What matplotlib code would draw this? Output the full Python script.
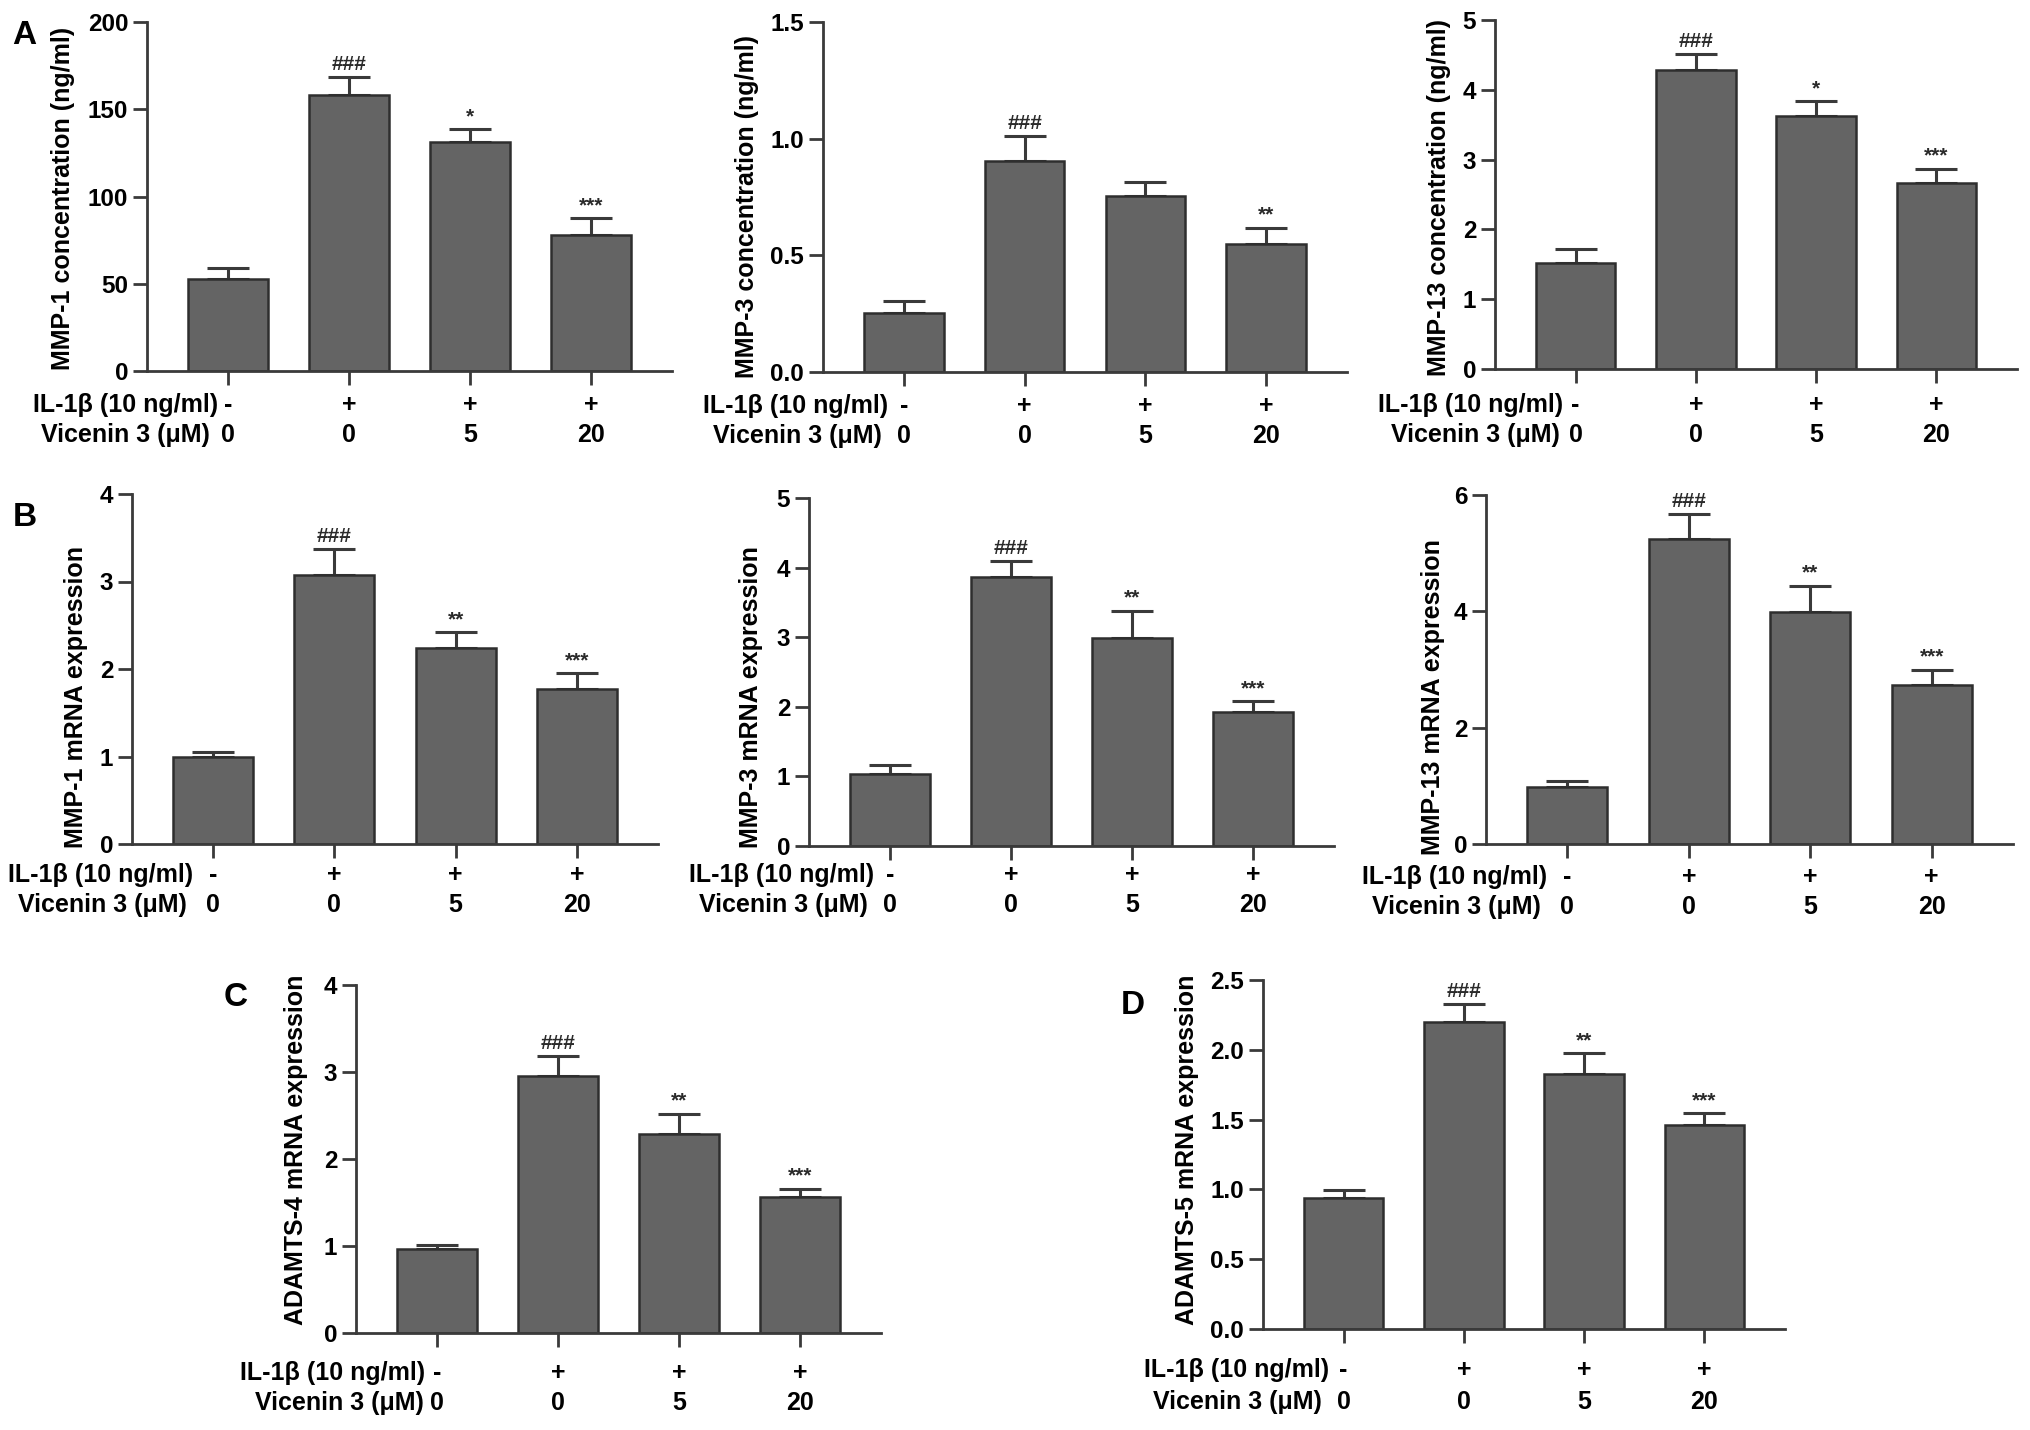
import matplotlib
matplotlib.use("Agg")
import matplotlib.pyplot as plt
from matplotlib.ticker import FormatStrFormatter

plt.rcParams["font.family"] = ["Liberation Sans", "DejaVu Sans"]
plt.rcParams["font.weight"] = "bold"

# --- data ---------------------------------------------------------------
il1b_row = ["-", "+", "+", "+"]
vicenin_row = ["0", "0", "5", "20"]

mmp1_conc = [52.5, 158, 131, 78]
mmp1_conc_err = [6.5, 10.5, 7.5, 9.5]
mmp3_conc = [0.253, 0.904, 0.755, 0.548]
mmp3_conc_err = [0.052, 0.106, 0.06, 0.07]
mmp13_conc = [1.52, 4.28, 3.62, 2.67]
mmp13_conc_err = [0.2, 0.24, 0.22, 0.2]

mmp1_mrna = [1.0, 3.07, 2.24, 1.77]
mmp1_mrna_err = [0.055, 0.3, 0.18, 0.18]
mmp3_mrna = [1.04, 3.86, 2.99, 1.93]
mmp3_mrna_err = [0.13, 0.24, 0.39, 0.15]
mmp13_mrna = [0.985, 5.24, 3.99, 2.73]
mmp13_mrna_err = [0.095, 0.43, 0.45, 0.27]

adamts4_mrna = [0.96, 2.95, 2.29, 1.56]
adamts4_mrna_err = [0.05, 0.23, 0.23, 0.10]
adamts5_mrna = [0.936, 2.20, 1.83, 1.46]
adamts5_mrna_err = [0.06, 0.13, 0.145, 0.085]

sig_a1 = ["", "###", "*", "***"]
sig_a2 = ["", "###", "", "**"]
sig_a3 = ["", "###", "*", "***"]
sig_mrna = ["", "###", "**", "***"]

ylabels = ["MMP-1 concentration (ng/ml)", "MMP-3 concentration (ng/ml)",
           "MMP-13 concentration (ng/ml)", "MMP-1 mRNA expression",
           "MMP-3 mRNA expression", "MMP-13 mRNA expression",
           "ADAMTS-4 mRNA expression", "ADAMTS-5 mRNA expression"]

W, H = 2031, 1430
BAR = "#646464"
EDGE = "#2e2e2e"
AXC = "#3a3a3a"
FS = 18
TFS = 17.5

# panel layout in pixels: axes box (left, top, right, bottom), ylabel centre,
# y max / step, row-text offsets below axis
panels = [
    dict(box=(147, 22, 672, 371), lab=(63, 198), ymax=200, step=50, fmt=None,
         vals=mmp1_conc, errs=mmp1_conc_err, sig=sig_a1, rows=(34, 64), gap=(10, 18)),
    dict(box=(823, 22, 1347, 372), lab=(747, 206), ymax=1.5, step=0.5, fmt="%.1f",
         vals=mmp3_conc, errs=mmp3_conc_err, sig=sig_a2, rows=(34, 64), gap=(16, 22)),
    dict(box=(1495, 20, 2017, 369), lab=(1439, 197), ymax=5, step=1, fmt=None,
         vals=mmp13_conc, errs=mmp13_conc_err, sig=sig_a3, rows=(36, 66), gap=(12, 16)),
    dict(box=(132, 494, 658, 844), lab=(76, 697), ymax=4, step=1, fmt=None,
         vals=mmp1_mrna, errs=mmp1_mrna_err, sig=sig_mrna, rows=(31, 61), gap=(20, 26)),
    dict(box=(809, 498, 1334, 846), lab=(751, 697), ymax=5, step=1, fmt=None,
         vals=mmp3_mrna, errs=mmp3_mrna_err, sig=sig_mrna, rows=(29, 59), gap=(16, 22)),
    dict(box=(1486, 495, 2013, 844), lab=(1433, 697), ymax=6, step=2, fmt=None,
         vals=mmp13_mrna, errs=mmp13_mrna_err, sig=sig_mrna, rows=(33, 63), gap=(20, 26)),
    dict(box=(356, 985, 881, 1333), lab=(296, 1150), ymax=4, step=1, fmt=None,
         vals=adamts4_mrna, errs=adamts4_mrna_err, sig=sig_mrna, rows=(40, 70), gap=(12, 13)),
    dict(box=(1263, 980, 1785, 1329), lab=(1187, 1150), ymax=2.5, step=0.5, fmt="%.1f",
         vals=adamts5_mrna, errs=adamts5_mrna_err, sig=sig_mrna, rows=(41, 73), gap=(14, 22)),
]
letters = [("A", 24, 35), ("B", 25, 517), ("C", 236, 998), ("D", 1133, 1005)]

PT = 72 / 100  # px -> pt at dpi 100

fig = plt.figure(figsize=(W / 100, H / 100), dpi=100)

for p, ylab in zip(panels, ylabels):
    l, t, r, b = p["box"]
    ax = fig.add_axes([l / W, 1 - b / H, (r - l) / W, (b - t) / H])
    x = list(range(len(p["vals"])))
    ax.errorbar(x, p["vals"], yerr=[[0] * len(x), p["errs"]], fmt="none",
                ecolor=AXC, elinewidth=2.2, capsize=14.8, capthick=2.2, zorder=1)
    ax.bar(x, p["vals"], width=0.66, color=BAR, edgecolor=EDGE, linewidth=1.8, zorder=2)

    ax.set_xlim(-0.67, 3.67)
    ax.set_ylim(0, p["ymax"])
    n = int(round(p["ymax"] / p["step"]))
    ax.set_yticks([i * p["step"] for i in range(n + 1)])
    if p["fmt"]:
        ax.yaxis.set_major_formatter(FormatStrFormatter(p["fmt"]))
    ax.set_xticks(x)
    ax.set_xticklabels([])
    for s in ("top", "right"):
        ax.spines[s].set_visible(False)
    for s in ("left", "bottom"):
        ax.spines[s].set_color(AXC)
        ax.spines[s].set_linewidth(2)
    ax.tick_params(axis="y", length=10, width=2, color=AXC, labelsize=TFS, pad=3.5)
    ax.tick_params(axis="x", length=10, width=2, color=AXC)
    for lab in ax.get_yticklabels():
        lab.set_fontweight("bold")

    # significance marks
    for xi, v, e, s in zip(x, p["vals"], p["errs"], p["sig"]):
        if s:
            ax.annotate(s, (xi, v + e), xytext=(0, 7 * PT), textcoords="offset points",
                        ha="center", va="baseline", fontsize=15, fontweight="bold",
                        color="#2a2a2a")

    # treatment rows under the axis
    r1, r2 = p["rows"]
    g1, g2 = p["gap"]
    for xi, a, c in zip(x, il1b_row, vicenin_row):
        ax.annotate(a, (xi, 0), xycoords=("data", "axes fraction"),
                    xytext=(0, -r1 * PT), textcoords="offset points",
                    ha="center", va="center", fontsize=FS, fontweight="bold")
        ax.annotate(c, (xi, 0), xycoords=("data", "axes fraction"),
                    xytext=(0, -r2 * PT), textcoords="offset points",
                    ha="center", va="center", fontsize=FS, fontweight="bold")
    ax.annotate("IL-1β (10 ng/ml)", (0, 0), xycoords=("data", "axes fraction"),
                xytext=(-g1 * PT, -r1 * PT), textcoords="offset points",
                ha="right", va="center", fontsize=FS, fontweight="bold")
    ax.annotate("Vicenin 3 (μM)", (0, 0), xycoords=("data", "axes fraction"),
                xytext=(-g2 * PT, -r2 * PT), textcoords="offset points",
                ha="right", va="center", fontsize=FS, fontweight="bold")

    fig.text(p["lab"][0] / W, 1 - p["lab"][1] / H, ylab, rotation=90,
             ha="center", va="center", fontsize=FS, fontweight="bold")

for letter, lx, ly in letters:
    fig.text(lx / W, 1 - ly / H, letter, ha="center", va="center",
             fontsize=24, fontweight="bold")

fig.savefig("out.png", dpi=100)
